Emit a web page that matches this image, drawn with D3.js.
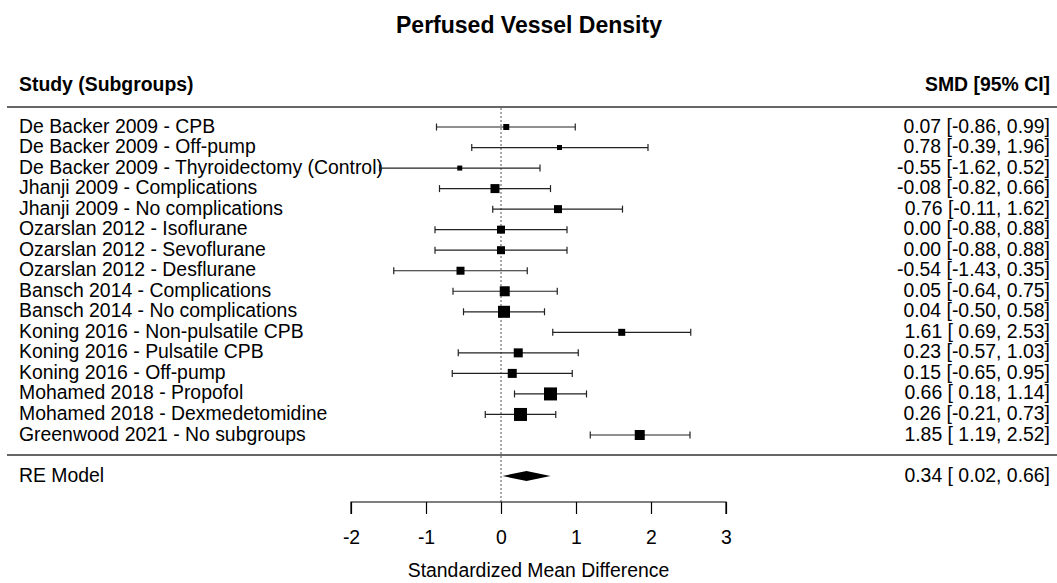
<!DOCTYPE html>
<html><head><meta charset="utf-8">
<script src="https://cdn.jsdelivr.net/npm/d3@7"></script>
<style>
html,body{margin:0;padding:0;background:#fff;}
svg{display:block;font-family:"Liberation Sans",Arial,sans-serif;}
</style></head>
<body><svg id="chart" width="1057" height="583"></svg>
<script>
const studies = ["De Backer 2009 - CPB","De Backer 2009 - Off-pump","De Backer 2009 - Thyroidectomy (Control)","Jhanji 2009 - Complications","Jhanji 2009 - No complications","Ozarslan 2012 - Isoflurane","Ozarslan 2012 - Sevoflurane","Ozarslan 2012 - Desflurane","Bansch 2014 - Complications","Bansch 2014 - No complications","Koning 2016 - Non-pulsatile CPB","Koning 2016 - Pulsatile CPB","Koning 2016 - Off-pump","Mohamed 2018 - Propofol","Mohamed 2018 - Dexmedetomidine","Greenwood 2021 - No subgroups"];
const smd   = [0.07,0.78,-0.55,-0.08,0.76,0.00,0.00,-0.54,0.05,0.04,1.61,0.23,0.15,0.66,0.26,1.85];
const lower = [-0.86,-0.39,-1.62,-0.82,-0.11,-0.88,-0.88,-1.43,-0.64,-0.50,0.69,-0.57,-0.65,0.18,-0.21,1.19];
const upper = [0.99,1.96,0.52,0.66,1.62,0.88,0.88,0.35,0.75,0.58,2.53,1.03,0.95,1.14,0.73,2.52];
const ciLabels = ["0.07 [-0.86, 0.99]","0.78 [-0.39, 1.96]","-0.55 [-1.62, 0.52]","-0.08 [-0.82, 0.66]","0.76 [-0.11, 1.62]","0.00 [-0.88, 0.88]","0.00 [-0.88, 0.88]","-0.54 [-1.43, 0.35]","0.05 [-0.64, 0.75]","0.04 [-0.50, 0.58]","1.61 [ 0.69, 2.53]","0.23 [-0.57, 1.03]","0.15 [-0.65, 0.95]","0.66 [ 0.18, 1.14]","0.26 [-0.21, 0.73]","1.85 [ 1.19, 2.52]"];
// relative study weight (square size)
const weights = [6,5,5,9,8,8,8,8,10,12,7,9,9,13,13,10];
const reModel = {label:"RE Model", est:0.34, lo:0.02, hi:0.66, text:"0.34 [ 0.02, 0.66]"};
const xTicks = [-2,-1,0,1,2,3];

const svg = d3.select("#chart");
const x = d3.scaleLinear().domain([-2,3]).range([351,726]);
const y = d3.scaleLinear().domain([0,15]).range([127,435]);
const yRE = 476, yAxis = 502;
const fs = 19.4;
const tOff = 5.5;

svg.append("text").attr("x",529).attr("y",33).attr("text-anchor","middle")
  .attr("font-size",23).attr("font-weight","bold").text("Perfused Vessel Density");

svg.append("text").attr("x",19).attr("y",91)
  .attr("font-size",fs).attr("font-weight","bold").text("Study (Subgroups)");
svg.append("text").attr("x",1050).attr("y",91).attr("text-anchor","end")
  .attr("font-size",fs).attr("font-weight","bold").text("SMD [95% CI]");

svg.append("line").attr("x1",7).attr("x2",1057).attr("y1",107).attr("y2",107).attr("stroke","#333").attr("stroke-width",1.3);
svg.append("line").attr("x1",7).attr("x2",1057).attr("y1",455).attr("y2",455).attr("stroke","#333").attr("stroke-width",1.3);

// zero line
svg.append("line").attr("x1",x(0)).attr("x2",x(0)).attr("y1",108).attr("y2",yAxis)
  .attr("stroke","#555").attr("stroke-width",1).attr("stroke-dasharray","2,2");

const rows = svg.append("g").selectAll("g").data(studies).join("g");
rows.append("text").attr("x",19).attr("y",(d,i)=>y(i)+tOff)
  .attr("font-size",fs).text(d=>d);
rows.append("text").attr("x",1050).attr("y",(d,i)=>y(i)+tOff)
  .attr("text-anchor","end").attr("font-size",fs).style("white-space","pre").text((d,i)=>ciLabels[i]);
rows.append("line").attr("x1",(d,i)=>x(lower[i])).attr("x2",(d,i)=>x(upper[i]))
  .attr("y1",(d,i)=>y(i)).attr("y2",(d,i)=>y(i)).attr("stroke","#222").attr("stroke-width",1.2);
rows.append("line").attr("x1",(d,i)=>x(lower[i])).attr("x2",(d,i)=>x(lower[i]))
  .attr("y1",(d,i)=>y(i)-3.5).attr("y2",(d,i)=>y(i)+3.5).attr("stroke","#222").attr("stroke-width",1.2);
rows.append("line").attr("x1",(d,i)=>x(upper[i])).attr("x2",(d,i)=>x(upper[i]))
  .attr("y1",(d,i)=>y(i)-3.5).attr("y2",(d,i)=>y(i)+3.5).attr("stroke","#222").attr("stroke-width",1.2);
rows.append("rect").attr("x",(d,i)=>x(smd[i])-weights[i]/2).attr("y",(d,i)=>y(i)-weights[i]/2)
  .attr("width",(d,i)=>weights[i]).attr("height",(d,i)=>weights[i]).attr("fill","#000");

// RE model
svg.append("text").attr("x",19).attr("y",yRE+tOff+0.5).attr("font-size",fs).text(reModel.label);
svg.append("text").attr("x",1050).attr("y",yRE+tOff+0.5).attr("text-anchor","end")
  .attr("font-size",fs).style("white-space","pre").text(reModel.text);
svg.append("polygon").attr("points",[[x(reModel.lo),yRE],[x(reModel.est),yRE-5],[x(reModel.hi),yRE],[x(reModel.est),yRE+5]].join(" "))
  .attr("fill","#000");

// axis
const ax = svg.append("g").attr("transform",`translate(0,${yAxis})`)
  .call(d3.axisBottom(x).tickValues(xTicks).tickFormat(d=>String(d)).tickSize(12).tickPadding(16));
ax.select(".domain").attr("stroke","#000").attr("stroke-width",1.2).attr("d",`M${x(-2)},12V0H${x(3)}V12`);
ax.selectAll(".tick line").attr("stroke","#000").attr("stroke-width",1.2);
ax.selectAll(".tick text").attr("font-size",fs).attr("font-family","'Liberation Sans',Arial,sans-serif").attr("fill","#000");

svg.append("text").attr("x",x(0.5)).attr("y",577).attr("text-anchor","middle").attr("font-size",fs)
  .text("Standardized Mean Difference");
</script></body></html>
